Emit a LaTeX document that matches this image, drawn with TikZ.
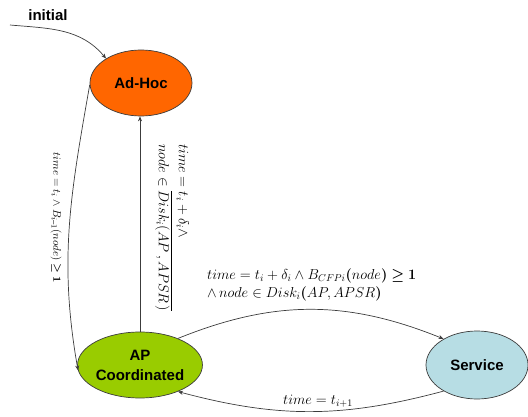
\documentclass[tikz,border=0pt]{standalone}
\usepackage{amsmath,amssymb}
\usepackage[no-math]{fontspec}
\setmainfont{Liberation Sans}
\usepackage{tikz}
\usetikzlibrary{arrows.meta, positioning, calc, shapes}
\definecolor{adhocorange}{RGB}{255,102,0}
\definecolor{apgreen}{RGB}{153,204,0}
\definecolor{servblue}{RGB}{183,221,228}
\definecolor{edgegray}{RGB}{60,60,60}

\begin{document}
\begin{tikzpicture}[x=1pt, y=1pt,
    state/.style={ellipse, draw=edgegray, line width=0.7pt, inner sep=0pt,
      font=\fontsize{15}{20}\selectfont\bfseries, align=center},
    trans/.style={draw=edgegray, line width=0.7pt, -{Stealth[length=5pt, width=4pt]}},
    cond/.style={font=\fontsize{14}{18}\selectfont, inner sep=0pt}]
  \useasboundingbox (0,0) rectangle (528,416);
  % states
  \node[state, fill=adhocorange, minimum width=102, minimum height=66] (adhoc) at (141,333) {Ad-Hoc};
  \node[state, fill=apgreen, minimum width=100, minimum height=66] (ap) at (140,51) {AP\\Coordinated};
  \node[state, fill=servblue, minimum width=102, minimum height=68] (service) at (477,51) {Service};
  % initial arrow
  \coordinate (init) at (10,391);
  \node[font=\fontsize{15}{18}\selectfont\bfseries] (initlbl) at (48,401) {initial};
  \draw[trans] (init) to[out=-5, in=130] (adhoc.145);
  % transitions
  \draw[trans] (adhoc.182) to[out=260, in=100] (ap.185);
  \draw[trans] (ap.north) -- (ap.north |- adhoc.south);
  \draw[trans] (ap.35) to[out=22, in=158] (service.142);
  \draw[trans] (service.218) to[out=195, in=-15] (ap.-35);
  % conditions
  \node[cond, font=\fontsize{11}{14}\selectfont, rotate=-90] (lblfall) at (56,198)
    {$time = t_i \wedge B_{i\text{--}1}(node) \boldsymbol{\geq} \mathbf{1}$};
  \node[cond, rotate=-90, anchor=north west, align=left] (lblback) at (189,272)
    {$time = t_i + \delta_i \wedge$\\[2pt] $node \in \overline{Disk_i(AP\,,APSR\,)}$};
  \node[cond, anchor=west, align=left] (lblserve) at (207,131)
    {$time = t_i + \delta_i \wedge B_{CFPi}\boldsymbol{(}node\boldsymbol{)} \boldsymbol{\geq} \mathbf{1}$\\
     $\wedge\, node \in Disk_i\boldsymbol{(}AP,APSR\boldsymbol{)}$};
  \node[cond] (lblret) at (318,15) {$time = t_{i+1}$};
\end{tikzpicture}
\end{document}
